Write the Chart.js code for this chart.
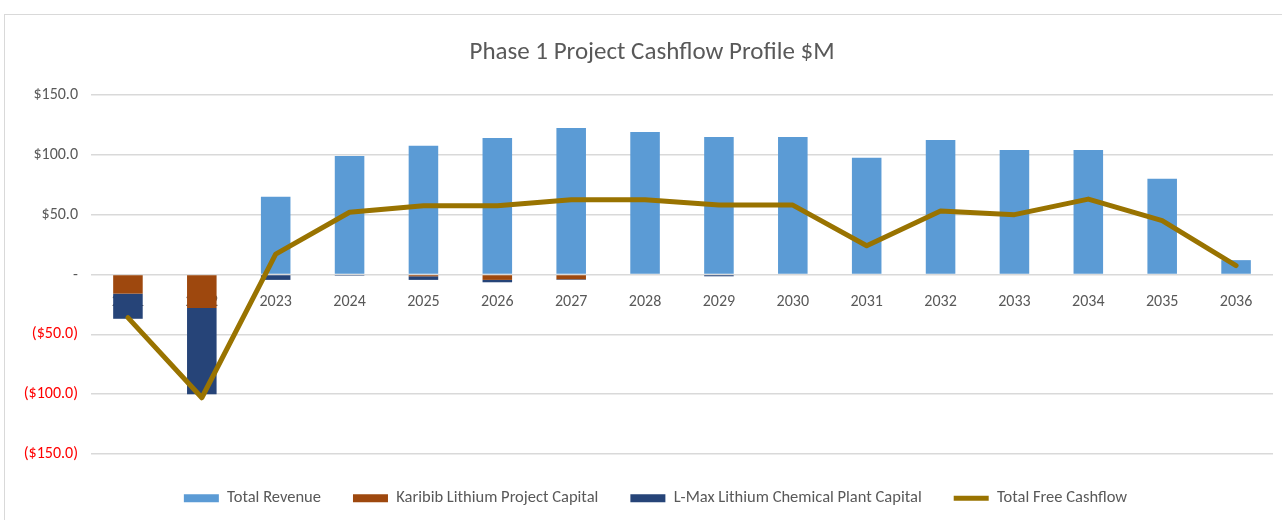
<!DOCTYPE html>
<html>
<head>
<meta charset="utf-8">
<script src="https://cdn.jsdelivr.net/npm/chart.js@4.4.1/dist/chart.umd.min.js"></script>
<style>
  html, body { margin: 0; padding: 0; background: #ffffff; }
  #wrap { position: relative; width: 1282px; height: 520px; overflow: hidden; }
  #frame { position: absolute; left: 4px; top: 14px; width: 1320px; height: 560px; border: 1px solid #D9D9D9; box-sizing: border-box; }
  #c { position: absolute; left: 0; top: 0; }
</style>
</head>
<body>
<div id="wrap">
  <div id="frame"></div>
  <canvas id="c" width="1282" height="520"></canvas>
</div>
<script>
const years = ['2021','2022','2023','2024','2025','2026','2027','2028','2029','2030','2031','2032','2033','2034','2035','2036'];
const totalRevenue = [0, 0, 65, 99, 107.5, 114, 122.5, 119, 115, 115, 97.5, 112.5, 104, 104, 80, 12];
const karibibCapital = [-16, -28, 0, 0, -1.5, -4.5, -4, 0, 0, 0, 0, 0, 0, 0, 0, 0];
const lmaxCapital = [-21, -72, -4.5, -1, -3, -2, -0.5, 0, -1.5, 0, 0, 0, 0, 0, 0, 0];
const freeCashflow = [-36, -103, 17, 52, 57.5, 57.5, 62.5, 62.5, 58, 58, 24, 53, 50, 63, 45, 7.5];
const yTicks = [-150, -100, -50, 0, 50, 100, 150];

const FONT = "Carlito, Lato, 'Liberation Sans Narrow', sans-serif";
const GREY = '#595959';

function fmt(v) {
  if (v === 0) return '-';
  const s = '$' + Math.abs(v).toFixed(1);
  return v < 0 ? '(' + s + ')' : s;
}

// centre title and legend on the full Excel chart frame rather than the canvas box
const frameCentering = {
  id: 'frameCentering',
  afterLayout(chart) {
    const t = chart.titleBlock;
    if (t) { t.left += 15.5; t.right += 15.5; }
    const l = chart.legend;
    if (l) { l.left += 19; l.right += 19; l.top += 4; l.bottom += 4; }
  }
};

new Chart(document.getElementById('c'), {
  data: {
    labels: years,
    datasets: [
      { type: 'bar', label: 'Total Revenue', data: totalRevenue, backgroundColor: '#5B9BD5', borderWidth: 0, stack: 'bars', order: 0, pointStyle: 'rect' },
      { type: 'bar', label: 'Karibib Lithium Project Capital', data: karibibCapital, backgroundColor: '#9E480E', borderWidth: 0, stack: 'bars', order: 0, pointStyle: 'rect' },
      { type: 'bar', label: 'L-Max Lithium Chemical Plant Capital', data: lmaxCapital, backgroundColor: '#264478', borderWidth: 0, stack: 'bars', order: 0, pointStyle: 'rect' },
      { type: 'line', label: 'Total Free Cashflow', data: freeCashflow, borderColor: '#997300', backgroundColor: '#997300', borderWidth: 5, pointRadius: 0, pointHoverRadius: 0, tension: 0, fill: false, stack: 'line', order: -1, borderJoinStyle: 'round', borderCapStyle: 'round', pointStyle: 'line' }
    ]
  },
  plugins: [frameCentering],
  options: {
    responsive: false,
    animation: false,
    layout: { padding: { left: 0, right: 9, top: 0, bottom: 7.5 } },
    datasets: { bar: { barPercentage: 0.4, categoryPercentage: 1.0 } },
    plugins: {
      tooltip: { enabled: false },
      title: {
        display: true,
        text: 'Phase 1 Project Cashflow Profile $M',
        color: GREY,
        font: { family: FONT, size: 25, weight: 'normal', lineHeight: 1.2 },
        padding: { top: 37.5, bottom: 27.5 }
      },
      legend: {
        position: 'bottom',
        labels: {
          usePointStyle: true,
          pointStyleWidth: 35,
          boxHeight: 8,
          padding: 32,
          color: GREY,
          font: { family: FONT, size: 16.5 },
          sort: (a, b) => a.datasetIndex - b.datasetIndex
        }
      }
    },
    scales: {
      x: {
        stacked: true,
        position: { y: 0 },
        z: 1,
        grid: { display: false, drawTicks: false },
        border: { display: false },
        ticks: { color: GREY, font: { family: FONT, size: 16 }, padding: 18, maxRotation: 0, autoSkip: false }
      },
      y: {
        stacked: true,
        min: -150,
        max: 150,
        afterFit: (s) => { s.width = 91; },
        afterBuildTicks: (s) => { s.ticks = yTicks.map(v => ({ value: v })); },
        grid: { color: '#D9D9D9', lineWidth: 1.5, drawTicks: false },
        border: { display: false },
        ticks: {
          padding: 13,
          font: { family: FONT, size: 16 },
          color: (ctx) => (ctx.tick && ctx.tick.value < 0 ? '#FF0000' : GREY),
          callback: (v) => fmt(v)
        }
      }
    }
  }
});
</script>
</body>
</html>
